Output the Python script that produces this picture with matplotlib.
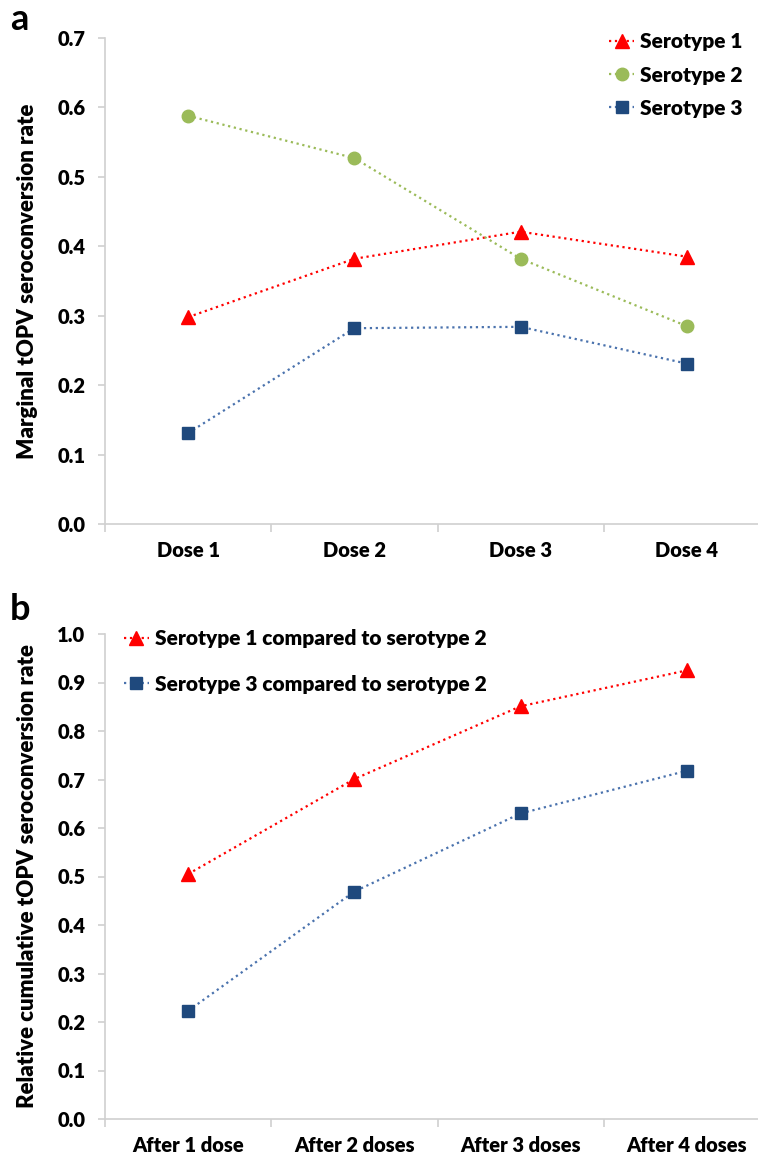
import matplotlib
matplotlib.use("Agg")
import matplotlib.pyplot as plt
from matplotlib.ticker import MultipleLocator, FixedLocator, FormatStrFormatter

plt.rcParams['font.family'] = ['Lato', 'DejaVu Sans']
WT = 'heavy'
plt.rcParams['font.weight'] = WT

# Panel a data
doses = ["Dose 1", "Dose 2", "Dose 3", "Dose 4"]
sero1_marginal = [0.298, 0.382, 0.421, 0.385]
sero2_marginal = [0.588, 0.527, 0.382, 0.285]
sero3_marginal = [0.131, 0.282, 0.284, 0.231]

# Panel b data
after_labels = ["After 1 dose", "After 2 doses", "After 3 doses", "After 4 doses"]
rel1_vs_2 = [0.505, 0.701, 0.851, 0.925]
rel3_vs_2 = [0.223, 0.469, 0.630, 0.718]

RED = "#ff0000"
GREEN = "#9bbb59"
BLUE_M = "#1f497d"
BLUE_L = "#4a72ad"
SPINE = "#d0d0d0"

fig = plt.figure(figsize=(7.58, 11.59), dpi=100)
W, H = 758, 1159

def make_ax(top_px, bottom_px):
    left = 105 / W
    width = 665 / W
    bottom = 1 - bottom_px / H
    height = (bottom_px - top_px) / H
    return fig.add_axes([left, bottom, width, height])

def style(ax, labels, ymax, ylabel, ylsize):
    x = list(range(1, 5))
    ax.set_xlim(0.5, 4.5)
    ax.set_ylim(0, ymax)
    ax.yaxis.set_major_locator(MultipleLocator(0.1))
    ax.yaxis.set_major_formatter(FormatStrFormatter('%.1f'))
    ax.set_xticks(x)
    ax.set_xticklabels(labels, fontweight=WT)
    for t in ax.get_yticklabels():
        t.set_fontweight(WT)
    ax.xaxis.set_minor_locator(FixedLocator([0.5, 1.5, 2.5, 3.5, 4.5]))
    ax.tick_params(axis='x', which='major', length=0, pad=12, labelsize=14.5)
    ax.tick_params(axis='x', which='minor', length=6, color=SPINE, width=1.2)
    ax.tick_params(axis='y', which='major', length=5, color=SPINE, width=1.2, pad=9, labelsize=14.5)
    for s in ['top', 'right']:
        ax.spines[s].set_visible(False)
    for s in ['left', 'bottom']:
        ax.spines[s].set_color(SPINE)
        ax.spines[s].set_linewidth(1.2)
    ax.set_ylabel(ylabel, fontsize=ylsize, fontweight=WT)
    ax.yaxis.set_label_coords(-0.1, 0.5)

# Panel a
axa = make_ax(38, 524)
x = [1, 2, 3, 4]
axa.plot(x, sero1_marginal, linestyle=':', color=RED, lw=1.6, marker='^', ms=10,
         mfc=RED, mec=RED, label="Serotype 1")
axa.plot(x, sero2_marginal, linestyle=':', color=GREEN, lw=1.6, marker='o', ms=9,
         mfc=GREEN, mec=GREEN, label="Serotype 2")
axa.plot(x, sero3_marginal, linestyle=':', color=BLUE_L, lw=1.6, marker='s', ms=9,
         mfc=BLUE_M, mec=BLUE_M, label="Serotype 3")
style(axa, doses, 0.7, "Marginal tOPV seroconversion rate", 16)
axa.legend(loc='upper left', bbox_to_anchor=(0.73, 1.05), frameon=False,
           prop={'size': 15, 'weight': WT}, handlelength=1.2, handletextpad=0.3,
           labelspacing=0.68, borderpad=0.4)

# Panel b
axb = make_ax(634, 1119)
axb.plot(x, rel1_vs_2, linestyle=':', color=RED, lw=1.6, marker='^', ms=10,
         mfc=RED, mec=RED, label="Serotype 1 compared to serotype 2")
axb.plot(x, rel3_vs_2, linestyle=':', color=BLUE_L, lw=1.6, marker='s', ms=9,
         mfc=BLUE_M, mec=BLUE_M, label="Serotype 3 compared to serotype 2")
style(axb, after_labels, 1.0, "Relative cumulative tOPV seroconversion rate", 16)
axb.legend(loc='upper left', bbox_to_anchor=(0.0, 1.048), frameon=False,
           prop={'size': 15, 'weight': WT}, handlelength=1.2, handletextpad=0.3,
           labelspacing=1.25, borderpad=0.4)

fig.text(10 / W, 1 - 20 / H, "a", fontsize=26, fontweight='bold', va='center', ha='left')
fig.text(10 / W, 1 - 610 / H, "b", fontsize=26, fontweight='bold', va='center', ha='left')

fig.savefig("out.png", dpi=100)
